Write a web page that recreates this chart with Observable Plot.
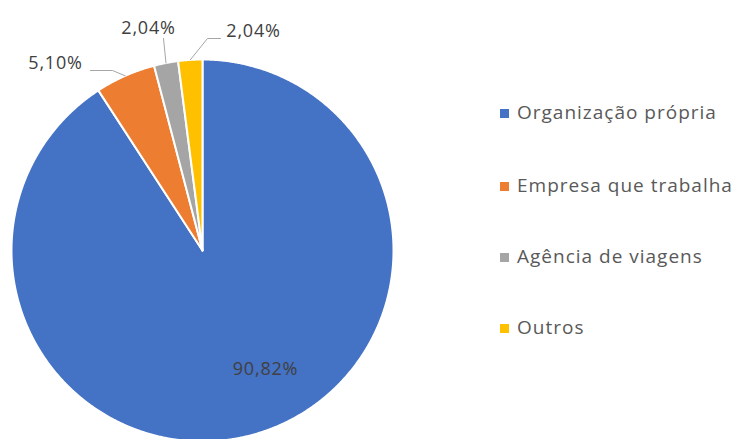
<!DOCTYPE html>
<html><head><meta charset="utf-8">
<script src="https://cdn.jsdelivr.net/npm/d3@7"></script>
<script src="https://cdn.jsdelivr.net/npm/@observablehq/plot@0.6"></script>
<style>
body{margin:0;background:#fff;}
#wrap{position:relative;width:735px;height:439px;overflow:hidden;font-family:"Open Sans",sans-serif;}
#wrap svg{position:absolute;left:0;top:0;}
.item{position:absolute;white-space:nowrap;font-size:19px;letter-spacing:1px;color:#595959;line-height:22px;}
.sw{position:absolute;width:9px;height:9px;}
</style></head><body><div id="wrap"></div>
<script>
const categories = ["Organização própria", "Empresa que trabalha", "Agência de viagens", "Outros"];
const values = [90.82, 5.10, 2.04, 2.04];
const valueLabels = ["90,82%", "5,10%", "2,04%", "2,04%"];
const colors = ["#4472C4", "#ED7D31", "#A5A5A5", "#FFC000"];

// layout (pixels)
const W = 735, H = 439, CX = 202, CY = 250, R = 191;
const labelPx = [[265, 369], [55, 63], [148, 28], [253, 31]];
const leaderStartPx = [null, [[90, 70], [112, 70]], [[163, 38]], [[220, 38], [207, 38]]];

const toU = ([px, py]) => ({x: (px - CX) / R, y: (CY - py) / R});
const total = d3.sum(values);
let acc = 0;
const slices = values.map((v, i) => {
  const a0 = acc / total * 2 * Math.PI; acc += v;
  const a1 = acc / total * 2 * Math.PI;
  return {cat: categories[i], a0, a1, mid: (a0 + a1) / 2, label: valueLabels[i], i};
});
const pts = [];
slices.forEach(s => {
  pts.push({cat: s.cat, x: 0, y: 0});
  const n = Math.max(2, Math.ceil((s.a1 - s.a0) / 0.005));
  for (let k = 0; k <= n; k++) {
    const a = s.a0 + (s.a1 - s.a0) * k / n;
    pts.push({cat: s.cat, x: Math.sin(a), y: Math.cos(a)});
  }
  pts.push({cat: s.cat, x: 0, y: 0});
});
const leaders = [];
slices.forEach(s => {
  const st = leaderStartPx[s.i];
  if (!st) return;
  st.forEach(p => leaders.push({id: s.i, ...toU(p)}));
  leaders.push({id: s.i, x: Math.sin(s.mid), y: Math.cos(s.mid)});
});
const labs = slices.map(s => ({t: s.label, ...toU(labelPx[s.i])}));

const plot = Plot.plot({
  width: W, height: H, margin: 0,
  x: {domain: [-CX / R, (W - CX) / R], range: [0, W], axis: null},
  y: {domain: [-(H - CY) / R, CY / R], range: [H, 0], axis: null},
  color: {domain: categories, range: colors},
  style: {background: "transparent"},
  marks: [
    Plot.line(pts, {x: "x", y: "y", z: "cat", fill: "cat", stroke: "white", strokeWidth: 2, curve: "linear"}),
    Plot.line(leaders, {x: "x", y: "y", z: "id", stroke: "#A6A6A6", strokeWidth: 1}),
    Plot.text(labs, {x: "x", y: "y", text: "t", fontSize: 18, fill: "#404040", fontFamily: "Open Sans", textAnchor: "middle", style: "letter-spacing:0.8px"})
  ]
});
plot.querySelectorAll("text").forEach(t => t.style.letterSpacing = "0.8px");
const wrap = document.getElementById("wrap");
wrap.appendChild(plot);

const rowY = [113, 186, 257, 328];
categories.forEach((c, i) => {
  const sw = document.createElement("div");
  sw.className = "sw"; sw.style.background = colors[i];
  sw.style.left = "500px"; sw.style.top = (rowY[i] - 4) + "px";
  wrap.appendChild(sw);
  const t = document.createElement("div");
  t.className = "item"; t.textContent = c;
  t.style.left = "517px"; t.style.top = (rowY[i] - 12) + "px";
  wrap.appendChild(t);
});
</script></body></html>
